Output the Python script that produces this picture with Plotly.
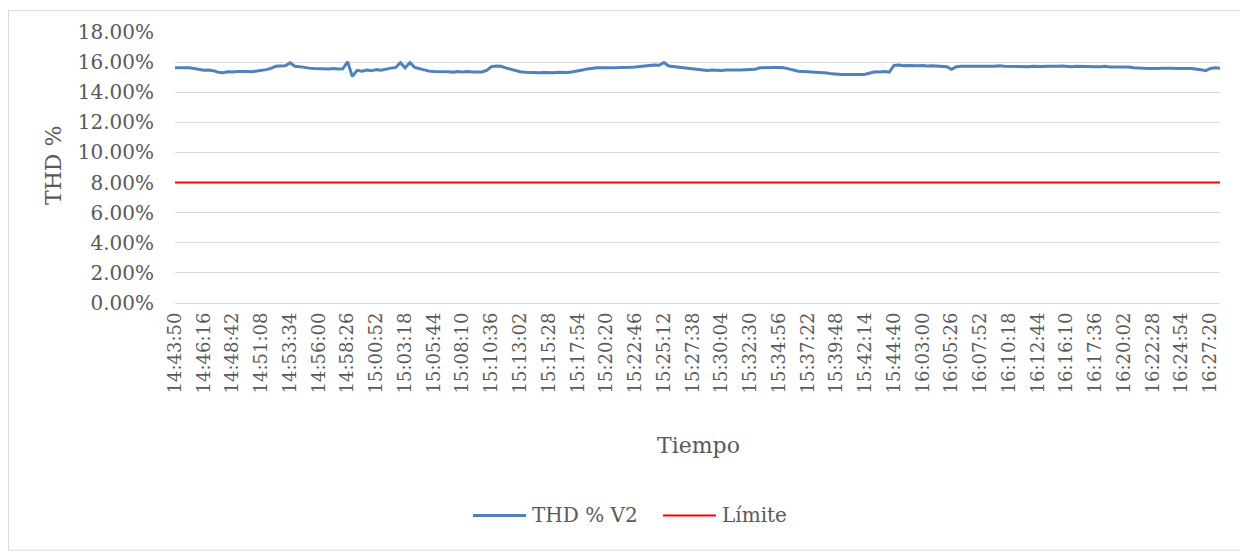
import plotly.graph_objects as go

# Etiquetas del eje X (una cada 6 muestras)
etiquetas_tiempo = [
    "14:43:50", "14:46:16", "14:48:42", "14:51:08", "14:53:34", "14:56:00",
    "14:58:26", "15:00:52", "15:03:18", "15:05:44", "15:08:10", "15:10:36",
    "15:13:02", "15:15:28", "15:17:54", "15:20:20", "15:22:46", "15:25:12",
    "15:27:38", "15:30:04", "15:32:30", "15:34:56", "15:37:22", "15:39:48",
    "15:42:14", "15:44:40", "16:03:00", "16:05:26", "16:07:52", "16:10:18",
    "16:12:44", "16:16:10", "16:17:36", "16:20:02", "16:22:28", "16:24:54",
    "16:27:20",
]
muestras_por_etiqueta = 6

# THD % V2 (en %)
thd_v2 = [
    15.62, 15.64, 15.62, 15.63, 15.58, 15.50,
    15.46, 15.47, 15.43, 15.33, 15.30, 15.36,
    15.34, 15.38, 15.35, 15.37, 15.36, 15.40,
    15.48, 15.50, 15.58, 15.72, 15.74, 15.76,
    15.95, 15.72, 15.70, 15.63, 15.60, 15.58,
    15.56, 15.58, 15.55, 15.57, 15.54, 15.56,
    16.02, 15.05, 15.45, 15.40, 15.48, 15.42,
    15.50, 15.46, 15.55, 15.60, 15.63, 15.96,
    15.62, 15.96, 15.65, 15.55, 15.48, 15.40,
    15.37, 15.38, 15.35, 15.36, 15.33, 15.37,
    15.35, 15.38, 15.34, 15.36, 15.35, 15.45,
    15.70, 15.74, 15.72, 15.62, 15.52, 15.42,
    15.36, 15.33, 15.30, 15.32, 15.29, 15.31,
    15.28, 15.30, 15.32, 15.29, 15.31, 15.36,
    15.40, 15.48, 15.55, 15.60, 15.62, 15.63,
    15.62, 15.64, 15.63, 15.65, 15.64, 15.66,
    15.68, 15.72, 15.76, 15.78, 15.80, 15.79,
    15.97, 15.74, 15.70, 15.68, 15.66, 15.62,
    15.55, 15.50, 15.47, 15.45, 15.48, 15.46,
    15.44, 15.48, 15.45, 15.47, 15.47, 15.47,
    15.47, 15.52, 15.62, 15.64, 15.63, 15.65,
    15.64, 15.62, 15.55, 15.45, 15.40, 15.38,
    15.36, 15.38, 15.35, 15.33, 15.28, 15.22,
    15.18, 15.17, 15.18, 15.17, 15.19, 15.18,
    15.20, 15.30, 15.36, 15.35, 15.38, 15.34,
    15.78, 15.80, 15.76, 15.78, 15.75, 15.76,
    15.77, 15.74, 15.76, 15.75, 15.73, 15.70,
    15.52, 15.70, 15.72, 15.74, 15.72, 15.73,
    15.72, 15.74, 15.73, 15.72, 15.75, 15.73,
    15.72, 15.70, 15.73, 15.71, 15.70, 15.72,
    15.69, 15.71, 15.73, 15.70, 15.72, 15.74,
    15.71, 15.70, 15.72, 15.70, 15.68, 15.71,
    15.69, 15.70, 15.72, 15.68, 15.70, 15.67,
    15.68, 15.68, 15.62, 15.58, 15.59, 15.57,
    15.60, 15.58, 15.60, 15.57, 15.59, 15.58,
    15.60, 15.57, 15.58, 15.56, 15.50, 15.43,
    15.58, 15.62, 15.60,
]
limite_thd = 8.0

fuente = "DejaVu Serif"
gris_texto = "#595959"
gris_linea = "#D9D9D9"
azul = "#4F81BD"
rojo = "#FF0000"

# area de trazado en pixeles de la pagina (la pagina agrega 8 px de margen)
px_izq, px_der, px_arr, px_aba = 175, 1220, 30, 303
ancho_px = px_der - px_izq
alto_px = px_aba - px_arr


def papel_x(px_x):
    return (px_x - px_izq) / ancho_px


def papel_y(px_y):
    return (px_aba - px_y) / alto_px


x = list(range(len(thd_v2)))
y_thd = [v / 100 for v in thd_v2]
y_lim = [limite_thd / 100] * len(thd_v2)

fig = go.Figure()

fig.add_trace(go.Scatter(
    x=x, y=y_thd, mode="lines", name="THD % V2",
    line=dict(color=azul, width=3), showlegend=False,
))
fig.add_trace(go.Scatter(
    x=x, y=y_lim, mode="lines", name="Límite",
    line=dict(color=rojo, width=2), showlegend=False,
))

# Leyenda dibujada a mano (lineas largas como en Excel)
y_leyenda = papel_y(517)
shapes = [
    dict(type="rect", xref="paper", yref="paper",
         x0=papel_x(8.5), x1=papel_x(1244),
         y0=papel_y(552), y1=papel_y(8.5),
         line=dict(color=gris_linea, width=1), layer="below"),
    dict(type="line", xref="paper", yref="paper",
         x0=papel_x(473), x1=papel_x(526), y0=y_leyenda, y1=y_leyenda,
         line=dict(color=azul, width=3)),
    dict(type="line", xref="paper", yref="paper",
         x0=papel_x(663), x1=papel_x(716), y0=y_leyenda, y1=y_leyenda,
         line=dict(color=rojo, width=2)),
]

annotations = [
    dict(text="Tiempo", xref="paper", yref="paper",
         x=papel_x(698), y=papel_y(447), xanchor="center", yanchor="middle",
         showarrow=False, font=dict(size=22, color=gris_texto)),
    dict(text="THD %", xref="paper", yref="paper",
         x=papel_x(53), y=papel_y(165), xanchor="center", yanchor="middle",
         textangle=-90, showarrow=False, font=dict(size=22, color=gris_texto)),
    dict(text="THD % V2", xref="paper", yref="paper",
         x=papel_x(530), y=y_leyenda, xanchor="left", yanchor="middle",
         showarrow=False, font=dict(size=20, color=gris_texto)),
    dict(text="Límite", xref="paper", yref="paper",
         x=papel_x(720), y=y_leyenda, xanchor="left", yanchor="middle",
         showarrow=False, font=dict(size=20, color=gris_texto)),
]

fig.update_layout(
    width=1240, height=548,
    margin=dict(l=px_izq - 8, r=1248 - px_der, t=px_arr - 8, b=556 - px_aba),
    paper_bgcolor="white", plot_bgcolor="white",
    font=dict(family=fuente, size=20, color=gris_texto),
    xaxis=dict(
        range=[0, len(thd_v2) - 1],
        tickvals=[i * muestras_por_etiqueta for i in range(len(etiquetas_tiempo))],
        ticktext=etiquetas_tiempo,
        tickangle=-90,
        showgrid=False, zeroline=False,
        showline=False, ticks="",
        tickfont=dict(size=18),
        ticklabelstandoff=5,
    ),
    yaxis=dict(
        range=[0, 0.18], dtick=0.02, tickformat=".2%",
        showgrid=True, gridcolor=gris_linea, gridwidth=1,
        zeroline=True, zerolinecolor=gris_linea, zerolinewidth=1,
        showline=False, ticks="", ticklabelstandoff=20,
        tickfont=dict(size=20),
    ),
    showlegend=False,
    shapes=shapes,
    annotations=annotations,
)

fig.write_html("out.html")
